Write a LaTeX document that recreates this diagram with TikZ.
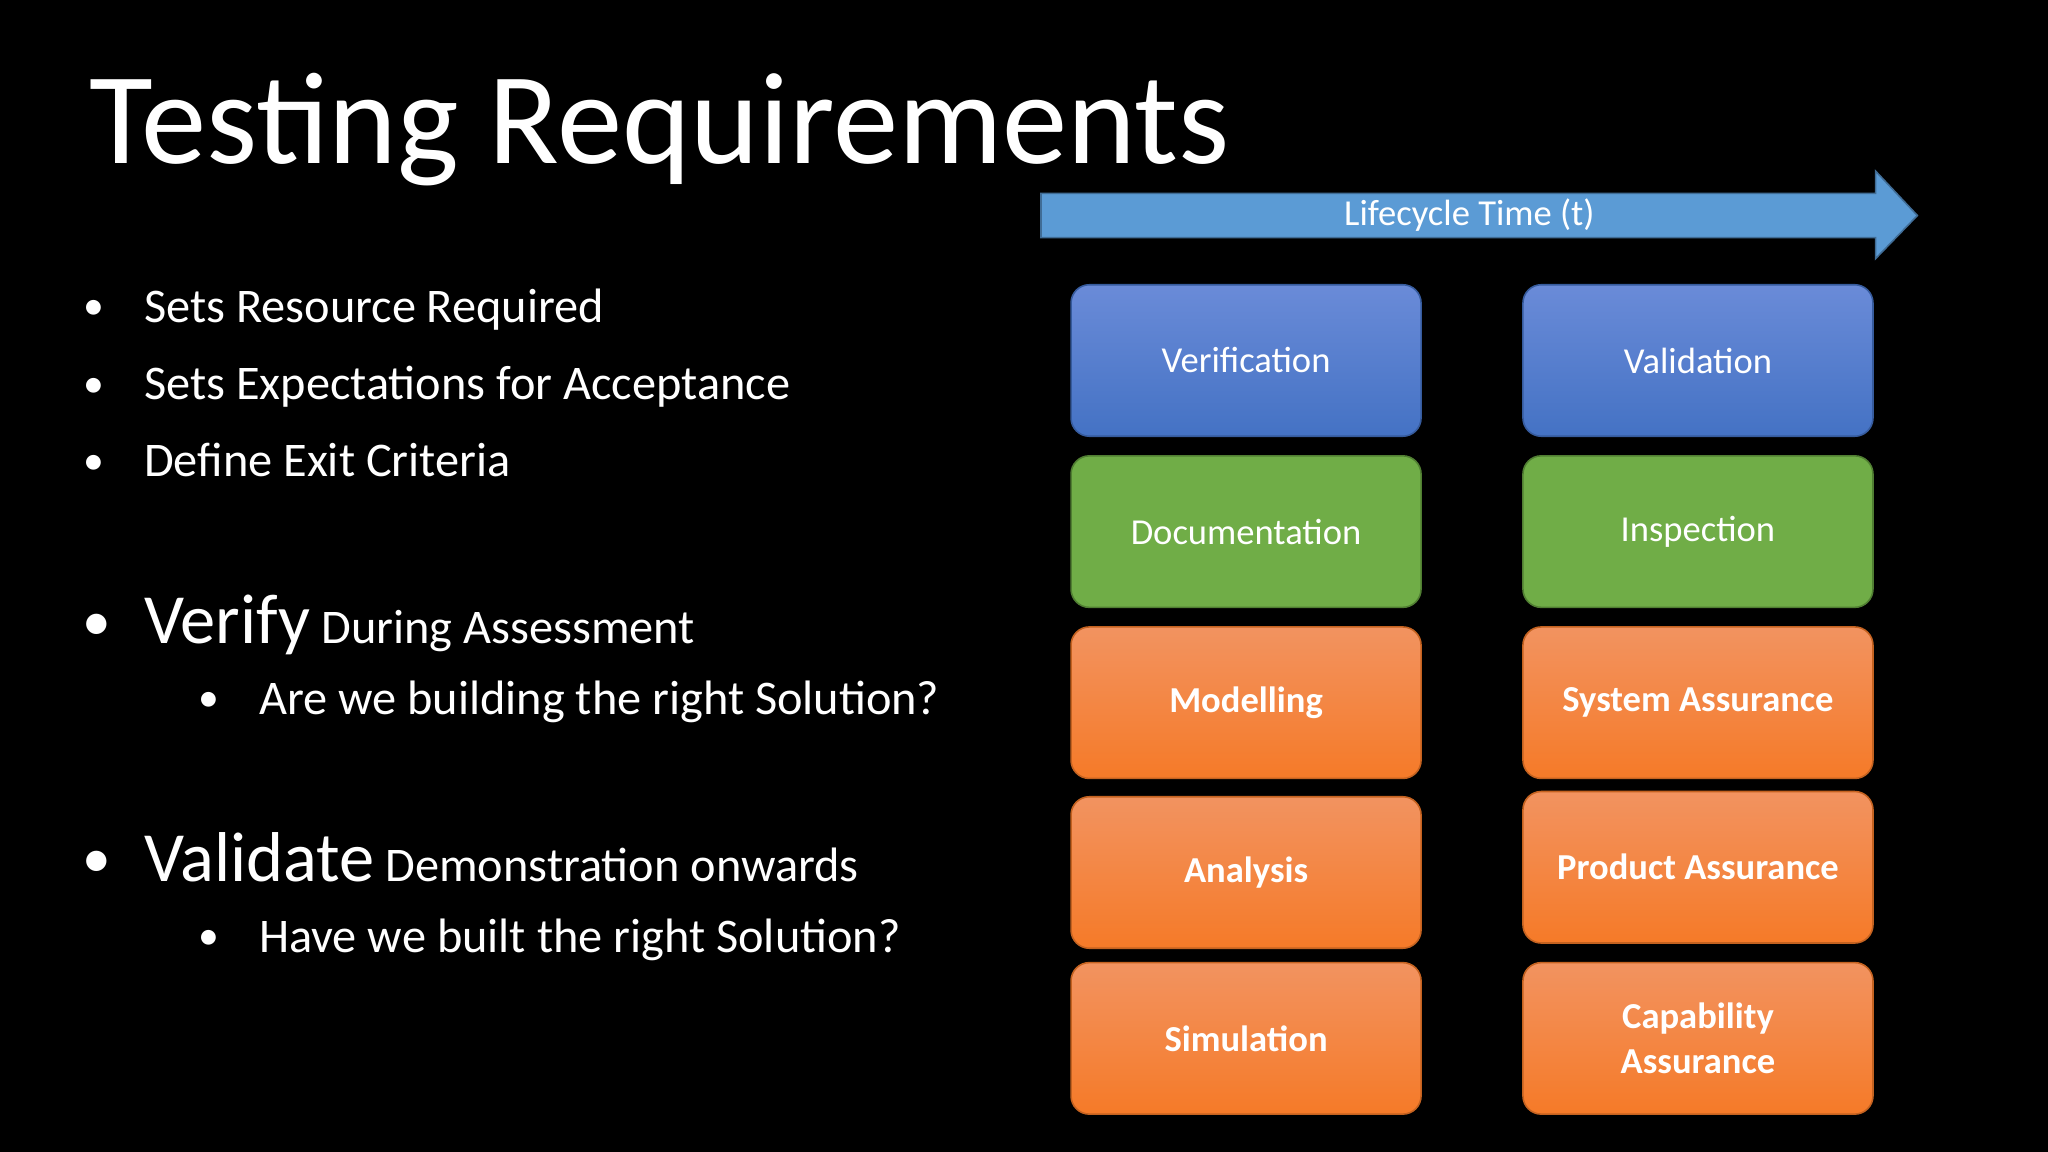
\documentclass[tikz,border=0pt]{standalone}
\usepackage{fontspec}
\setmainfont{Carlito}
\usetikzlibrary{shapes.arrows}
\definecolor{bA}{HTML}{6A8BD8}\definecolor{bB}{HTML}{4472C4}
\definecolor{gA}{HTML}{70AD47}\definecolor{gB}{HTML}{507E32}
\definecolor{oA}{HTML}{F29360}\definecolor{oB}{HTML}{F57A28}
\definecolor{arr}{HTML}{5B9BD5}
\tikzset{
 bx/.style={rounded corners=7pt,minimum width=134pt,minimum height=58pt,text=white,font=\fontsize{14}{16}\selectfont,align=center},
 blue/.style={bx,top color=bA,bottom color=bB,draw=bB!80!black,line width=0.6pt},
 green/.style={bx,fill=gA,draw=gB,line width=0.6pt},
 orange/.style={bx,top color=oA,bottom color=oB,draw=oB!80!black,line width=0.6pt,font=\bfseries\fontsize{14}{17}\selectfont},
 txt/.style={anchor=base west,text=white,font=\fontsize{18.5}{20}\selectfont,inner sep=0pt},
 dot/.style={anchor=base,text=white,font=\fontsize{16}{20}\selectfont,inner sep=0pt}
}
\begin{document}
\begin{tikzpicture}[x=0.5pt,y=-0.5pt]
\fill[black] (0,0) rectangle (1568,882);
\useasboundingbox (0,0) rectangle (1568,882);
\node[anchor=base west,text=white,font=\fontsize{50}{55}\selectfont,inner sep=0pt] (title) at (68,125) {Testing Requirements};
\draw[draw=arr!70!black,fill=arr,line width=0.6pt] (797,148) -- (1436,148) -- (1436,131) -- (1468,165) -- (1436,198) -- (1436,182) -- (797,182) -- cycle;
\node[text=white,font=\fontsize{14}{16}\selectfont] (lt) at (1125,165) {Lifecycle Time (t)};
\node[dot] (d1) at (72,245) {•}; \node[txt] (t1) at (110,247) {Sets Resource Required};
\node[dot] (d2) at (72,304) {•}; \node[txt] (t2) at (110,306) {Sets Expectations for Acceptance};
\node[dot] (d3) at (72,363) {•}; \node[txt] (t3) at (110,365) {Define Exit Criteria};
\node[dot,font=\fontsize{22}{24}\selectfont] (d4) at (74,490) {•};
\node[txt] (t4) at (110,493) {{\fontsize{27}{30}\selectfont Verify} During Assessment};
\node[dot] (d5) at (160,545) {•}; \node[txt] (t5) at (198,547) {Are we building the right Solution?};
\node[dot,font=\fontsize{22}{24}\selectfont] (d6) at (74,672) {•};
\node[txt] (t6) at (110,675) {{\fontsize{27}{30}\selectfont Validate} Demonstration onwards};
\node[dot] (d7) at (160,727) {•}; \node[txt] (t7) at (198,729) {Have we built the right Solution?};
\node[blue] (v1) at (954,276) {Verification};
\node[blue] (v2) at (1300,276) {Validation};
\node[green] (g1) at (954,407) {Documentation};
\node[green] (g2) at (1300,407) {Inspection};
\node[orange] (o1) at (954,538) {Modelling};
\node[orange] (o2) at (1300,538) {System Assurance};
\node[orange] (o3) at (954,668) {Analysis};
\node[orange] (o4) at (1300,664) {Product Assurance};
\node[orange] (o5) at (954,795) {Simulation};
\node[orange] (o6) at (1300,795) {Capability\\Assurance};
\end{tikzpicture}
\end{document}
